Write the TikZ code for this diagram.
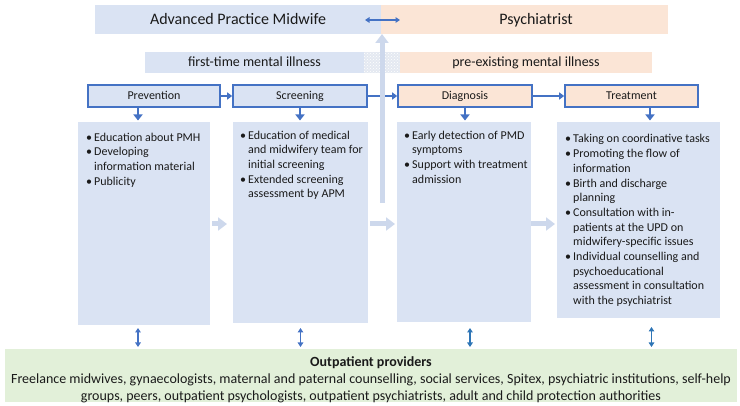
\documentclass[tikz,border=0pt]{standalone}
\usepackage{fontspec}
\setmainfont{Carlito}
\usetikzlibrary{arrows.meta,calc,patterns}
\definecolor{bfill}{HTML}{DAE3F3}
\definecolor{ofill}{HTML}{FBE5D6}
\definecolor{gfill}{HTML}{E2F0D9}
\definecolor{sblue}{HTML}{4472C4}
\definecolor{sblue2}{HTML}{2E75B6}
\definecolor{faintc}{HTML}{CDD8EC}
\definecolor{hatchc}{HTML}{E4E9F1}
\definecolor{txtc}{HTML}{1A1A1A}
\newcommand{\mybul}{\makebox[8pt][l]{\textbullet}}
\newcommand{\myind}{\hspace*{8pt}}
\begin{document}
\begin{tikzpicture}[x=1pt,y=-1pt,
  fb/.style={inner sep=0pt, outer sep=0pt, draw=none, text=txtc},
  t16/.style={font=\fontsize{16}{19}\selectfont, text height=10.3pt, text depth=0pt},
  t14/.style={font=\fontsize{14}{17}\selectfont, text height=9pt, text depth=0pt},
  stagebox/.style={draw=sblue, line width=1.6pt, inner sep=0pt, minimum height=22pt, text=txtc,
    font=\fontsize{12}{14.7}\selectfont, text height=7.7pt, text depth=0pt},
  listtxt/.style={anchor=north west, inner sep=0pt, align=left, text=txtc,
    font=\fontsize{12}{14.7}\selectfont},
  sarr/.style={draw=sblue, line width=1.8pt, -{Triangle[length=5pt,width=7pt]}},
  darr/.style={draw=sblue, line width=1.8pt, -{Triangle[length=6pt,width=9pt]}},
  faint/.style={draw=faintc, line width=5pt, -{Triangle[length=9pt,width=13pt]}},
  dbl/.style={line width=1.3pt, {Triangle[length=4.5pt,width=5.5pt]}-{Triangle[length=4.5pt,width=5.5pt]}},
]
\useasboundingbox (0,0) rectangle (740,406);

% top bar
\node[fb, t16, fill=bfill, minimum width=286pt, minimum height=29pt] (apm) at (238,19.5) {Advanced Practice Midwife};
\node[fb, fill=ofill, minimum width=287pt, minimum height=29pt] (psy) at (524.5,19.5) {};
\node[fb, t16] (psyt) at (536,19.5) {Psychiatrist};
\draw[draw=sblue, dbl] ($(apm.east)+(-16,0.5)$) -- ($(psy.west)+(19,0.5)$);

% second row
\node[fb, t14, fill=bfill, minimum width=219pt, minimum height=21pt] (ftm) at (254.5,62.5) {first-time mental illness};
\node[fb, minimum width=36pt, minimum height=21pt, preaction={fill=hatchc}, pattern=crosshatch dots, pattern color=white] (hatch) at (382,62.5) {};
\node[fb, t14, fill=ofill, minimum width=252pt, minimum height=21pt] (pem) at (526,62.5) {pre-existing mental illness};

% stage boxes
\node[stagebox, fill=bfill, minimum width=132pt] (prev) at (154,96) {Prevention};
\node[stagebox, fill=bfill, minimum width=134pt] (scr) at (300,96) {Screening};
\node[stagebox, fill=ofill, minimum width=134pt] (diag) at (465,96) {Diagnosis};
\node[stagebox, fill=ofill, minimum width=133pt] (treat) at (631.5,96) {Treatment};

% content boxes
\node[fb, fill=bfill, minimum width=132pt, minimum height=203pt] (cprev) at (144,223.5) {};
\node[fb, fill=bfill, minimum width=135pt, minimum height=201pt] (cscr) at (300.5,222.5) {};
\node[fb, fill=bfill, minimum width=134pt, minimum height=200pt] (cdiag) at (464,222) {};
\node[fb, fill=bfill, minimum width=163pt, minimum height=196pt] (ctreat) at (638.5,220) {};

% green box
\node[fb, fill=gfill, minimum width=732pt, minimum height=53pt] (green) at (371,375.5) {};
\node[fb, align=center, font=\fontsize{14}{16.8}\selectfont] (greent) at (371,379.5)
  {{\bfseries Outpatient providers}\\
   Freelance midwives, gynaecologists, maternal and paternal counselling, social services, Spitex, psychiatric institutions, self-help\\
   groups, peers, outpatient psychologists, outpatient psychiatrists, adult and child protection authorities};

% lists
\node[listtxt] (tprev) at (86,130.7)
  {\strut\mybul Education about PMH\\
   \mybul Developing\\
   \myind information material\\
   \mybul Publicity};
\node[listtxt] (tscr) at (240,128.7)
  {\strut\mybul Education of medical\\
   \myind and midwifery team for\\
   \myind initial screening\\
   \mybul Extended screening\\
   \myind assessment by APM};
\node[listtxt] (tdiag) at (404,128.7)
  {\strut\mybul Early detection of PMD\\
   \myind symptoms\\
   \mybul Support with treatment\\
   \myind admission};
\node[listtxt] (ttreat) at (565,132.5)
  {\strut\mybul Taking on coordinative tasks\\
   \mybul Promoting the flow of\\
   \myind information\\
   \mybul Birth and discharge\\
   \myind planning\\
   \mybul Consultation with in-\\
   \myind patients at the UPD on\\
   \myind midwifery-specific issues\\
   \mybul Individual counselling and\\
   \myind psychoeducational\\
   \myind assessment in consultation\\
   \myind with the psychiatrist};

% stage arrows
\draw[sarr] (prev.east) -- (scr.west);
\draw[sarr] (scr.east) -- (diag.west);
\draw[sarr] (diag.east) -- (treat.west);

% down arrows
\draw[darr, shorten >=1.5pt] ([xshift=-16pt]prev.south) -- ([xshift=-16pt]prev.south |- cprev.north);
\draw[darr, shorten >=1.5pt] (scr.south) -- (scr.south |- cscr.north);
\draw[darr, shorten >=1.5pt] (diag.south) -- (diag.south |- cdiag.north);
\draw[darr, shorten >=1.5pt] ([xshift=18.5pt]treat.south) -- ([xshift=18.5pt]treat.south |- ctreat.north);

% faint arrows
\coordinate (vbot) at (382,203);
\draw[faint] (vbot) -- (vbot |- apm.south);
\draw[faint, shorten <=2pt, shorten >=6pt] ([yshift=-0.5pt]cprev.east) -- ([yshift=-0.5pt]cprev.east -| cscr.west);
\draw[faint, shorten <=2pt, shorten >=2pt] ([yshift=-1.5pt]cscr.east) -- ([yshift=-1.5pt]cscr.east -| cdiag.west);
\draw[faint, shorten <=0pt, shorten >=2pt] ([yshift=-2pt]cdiag.east) -- ([yshift=-2pt]cdiag.east -| ctreat.west);

% double arrows to outpatient providers
\draw[dbl, draw=sblue] ($(cprev.south)+(-6,3)$) -- ($(cprev.south |- green.north)+(-6,-2)$);
\draw[dbl, draw=sblue] ($(cscr.south)+(0,5)$) -- ($(cscr.south |- green.north)+(0,-2)$);
\draw[dbl, draw=sblue2] ($(cdiag.south)+(6,6)$) -- ($(cdiag.south |- green.north)+(6,-2)$);
\draw[dbl, draw=sblue2] ($(ctreat.south)+(13,9)$) -- ($(ctreat.south |- green.north)+(13,-2)$);
\end{tikzpicture}
\end{document}
